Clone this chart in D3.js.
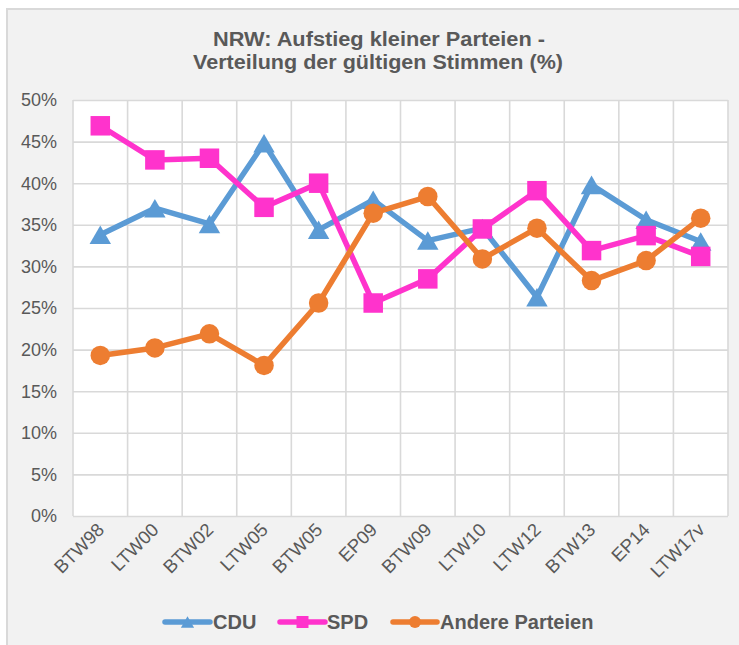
<!DOCTYPE html>
<html><head><meta charset="utf-8">
<script src="https://cdn.jsdelivr.net/npm/d3@7"></script>
<style>
html,body{margin:0;padding:0;background:#fff;}
svg{display:block;font-family:"Liberation Sans",Arial,sans-serif;}
</style></head>
<body>
<svg id="c" width="739" height="645"></svg>
<script>
const categories = ["BTW98","LTW00","BTW02","LTW05","BTW05","EP09","BTW09","LTW10","LTW12","BTW13","EP14","LTW17v"];
const cdu    = [33.8, 37.0, 35.1, 44.8, 34.4, 38.0, 33.1, 34.6, 26.3, 39.8, 35.6, 33.0];
const spd    = [46.9, 42.8, 43.0, 37.1, 40.0, 25.6, 28.5, 34.5, 39.1, 31.9, 33.7, 31.2];
const andere = [19.3, 20.2, 21.9, 18.1, 25.6, 36.4, 38.4, 30.9, 34.6, 28.3, 30.7, 35.8];
const yTicks = [0,5,10,15,20,25,30,35,40,45,50];
const titleLines = ["NRW: Aufstieg kleiner Parteien -", "Verteilung der gültigen Stimmen (%)"];
const seriesNames = ["CDU","SPD","Andere Parteien"];

const series = [
  {name: seriesNames[0], values: cdu, color: "#5b9bd5", marker: "triangle"},
  {name: seriesNames[1], values: spd, color: "#ff33cc", marker: "square"},
  {name: seriesNames[2], values: andere, color: "#ed7d31", marker: "circle"}
];

const svg = d3.select("#c");
const textColor = "#595959";
const gridColor = "#d9d9d9";

// chart frame
svg.append("rect").attr("x",7).attr("y",9).attr("width",745).attr("height",645)
  .attr("fill","#f2f2f2").attr("stroke",gridColor).attr("stroke-width",2);

const plot = {left:73, right:728, top:100, bottom:516};
const x = d3.scaleBand().domain(categories).range([plot.left, plot.right]).padding(0);
const y = d3.scaleLinear().domain([0,50]).range([plot.bottom, plot.top]);

// plot bg
svg.append("rect").attr("x",plot.left).attr("y",plot.top)
  .attr("width",plot.right-plot.left).attr("height",plot.bottom-plot.top).attr("fill","#fff");

// horizontal grid
svg.append("g").attr("transform",`translate(${plot.left},0)`)
  .call(d3.axisLeft(y).tickValues(yTicks).tickSize(-(plot.right-plot.left)).tickFormat(""))
  .call(g=>g.select(".domain").remove())
  .call(g=>g.selectAll("line").attr("stroke",gridColor).attr("stroke-width",1.6));

// vertical grid at band boundaries
const bounds = categories.map(c=>x(c)).concat([plot.right]);
svg.append("g").selectAll("line").data(bounds).join("line")
  .attr("x1",d=>d).attr("x2",d=>d).attr("y1",plot.top).attr("y2",plot.bottom)
  .attr("stroke",gridColor).attr("stroke-width",1.6);

// y labels
svg.append("g").selectAll("text").data(yTicks).join("text")
  .attr("x",57).attr("y",d=>y(d)).attr("dy","0.35em").attr("text-anchor","end")
  .attr("fill",textColor).attr("font-size",18).text(d=>d+"%");

// x labels
svg.append("g").selectAll("text").data(categories).join("text")
  .attr("text-anchor","end").attr("fill",textColor).attr("font-size",18.5)
  .attr("transform",d=>`translate(${x(d)+x.bandwidth()/2+5},${plot.bottom+15}) rotate(-45)`)
  .text(d=>d);

// title
svg.append("text").attr("x",379).attr("y",46).attr("text-anchor","middle")
  .attr("fill",textColor).attr("font-weight","bold").attr("font-size",20)
  .attr("textLength",332).attr("lengthAdjust","spacingAndGlyphs").text(titleLines[0]);
svg.append("text").attr("x",378).attr("y",68.5).attr("text-anchor","middle")
  .attr("fill",textColor).attr("font-weight","bold").attr("font-size",20)
  .attr("textLength",370).attr("lengthAdjust","spacingAndGlyphs").text(titleLines[1]);

function markerPath(type, s){
  if(type==="triangle"){
    const w=s*1.1, h=s*0.95;
    return `M0,${-h/2}L${w/2},${h/2}L${-w/2},${h/2}Z`;
  }
  if(type==="square"){
    return `M${-s/2},${-s/2}h${s}v${s}h${-s}Z`;
  }
  const r=s/2;
  return `M${r},0A${r},${r},0,1,1,${-r},0A${r},${r},0,1,1,${r},0Z`;
}

const line = d3.line().x((d,i)=>x(categories[i])+x.bandwidth()/2).y(d=>y(d));

series.forEach(s=>{
  const g = svg.append("g");
  g.append("path").datum(s.values).attr("d",line).attr("fill","none")
    .attr("stroke",s.color).attr("stroke-width",5.5).attr("stroke-linejoin","round").attr("stroke-linecap","round");
  g.selectAll("path.m").data(s.values).join("path").attr("class","m")
    .attr("transform",(d,i)=>`translate(${x(categories[i])+x.bandwidth()/2},${y(d)})`)
    .attr("d",markerPath(s.marker, 19.5)).attr("fill",s.color);
});

// legend
const legendItems = [
  {s:series[0], x1:165, x2:210, tx:213},
  {s:series[1], x1:280, x2:325, tx:327},
  {s:series[2], x1:393, x2:437, tx:440}
];
const lg = svg.append("g");
legendItems.forEach(it=>{
  const ly = 622;
  lg.append("line").attr("x1",it.x1).attr("x2",it.x2).attr("y1",ly).attr("y2",ly)
    .attr("stroke",it.s.color).attr("stroke-width",5.5).attr("stroke-linecap","round");
  lg.append("path").attr("transform",`translate(${(it.x1+it.x2)/2},${ly})`)
    .attr("d",markerPath(it.s.marker,12)).attr("fill",it.s.color);
  lg.append("text").attr("x",it.tx).attr("y",ly).attr("dy","0.36em")
    .attr("fill",textColor).attr("font-weight","bold").attr("font-size",20).text(it.s.name);
});
</script>
</body></html>
